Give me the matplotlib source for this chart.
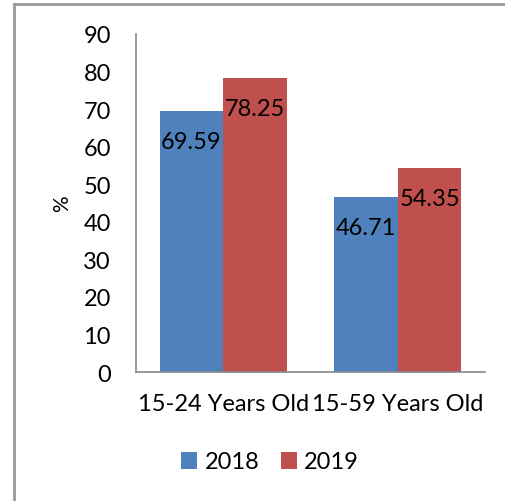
import numpy as np
import matplotlib.pyplot as plt
from matplotlib.lines import Line2D

categories = ["15-24 Years Old", "15-59 Years Old"]
series_names = ["2018", "2019"]
values_2018 = [69.59, 46.71]
values_2019 = [78.25, 54.35]
y_ticks = [0, 10, 20, 30, 40, 50, 60, 70, 80, 90]

plt.rcParams["font.family"] = ["Lato", "DejaVu Sans"]

W, H = 505, 502
fig = plt.figure(figsize=(W / 100, H / 100), dpi=100)
ax = fig.add_axes([136 / W, 1 - 373 / H, 349 / W, 338 / H])

x = np.arange(len(categories))
width = 0.364
colors = ["#4F81BD", "#C0504D"]
bars1 = ax.bar(x - width / 2, values_2018, width, color=colors[0], label=series_names[0])
bars2 = ax.bar(x + width / 2, values_2019, width, color=colors[1], label=series_names[1])

fs = 17
for bars, vals in [(bars1, values_2018), (bars2, values_2019)]:
    for b, v in zip(bars, vals):
        ax.annotate(f"{v:.2f}", (b.get_x() + b.get_width() / 2, v),
                    xytext=(0, -22), textcoords="offset points",
                    ha="center", va="center", fontsize=fs, color="black")

ax.set_xlim(-0.5, 1.5)
ax.set_ylim(0, 90)
ax.set_yticks(y_ticks)
ax.set_xticks(x)
ax.set_xticklabels(categories)
ax.tick_params(axis="y", length=0, pad=18, labelsize=fs)
ax.tick_params(axis="x", length=0, pad=15, labelsize=fs)
for s in ["top", "right"]:
    ax.spines[s].set_visible(False)
for s in ["left", "bottom"]:
    ax.spines[s].set_color("#888888")
    ax.spines[s].set_linewidth(1.2)
ax.set_ylabel("%", fontsize=15)
ax.yaxis.set_label_coords(-64 / 349, 0.5)

ax.legend(loc="center", bbox_to_anchor=(270 / W, 1 - 463 / H), bbox_transform=fig.transFigure,
          ncol=2, frameon=False, fontsize=fs, handlelength=0.7, handleheight=0.7,
          handletextpad=0.3, columnspacing=0.9)

# chart border (left and top edges visible)
fig.add_artist(Line2D([14 / W, 14 / W], [0, 1 - 5 / H], transform=fig.transFigure, color="#999999", lw=2))
fig.add_artist(Line2D([14 / W, 1], [1 - 5 / H, 1 - 5 / H], transform=fig.transFigure, color="#999999", lw=2))

fig.savefig("out.png", dpi=100)
